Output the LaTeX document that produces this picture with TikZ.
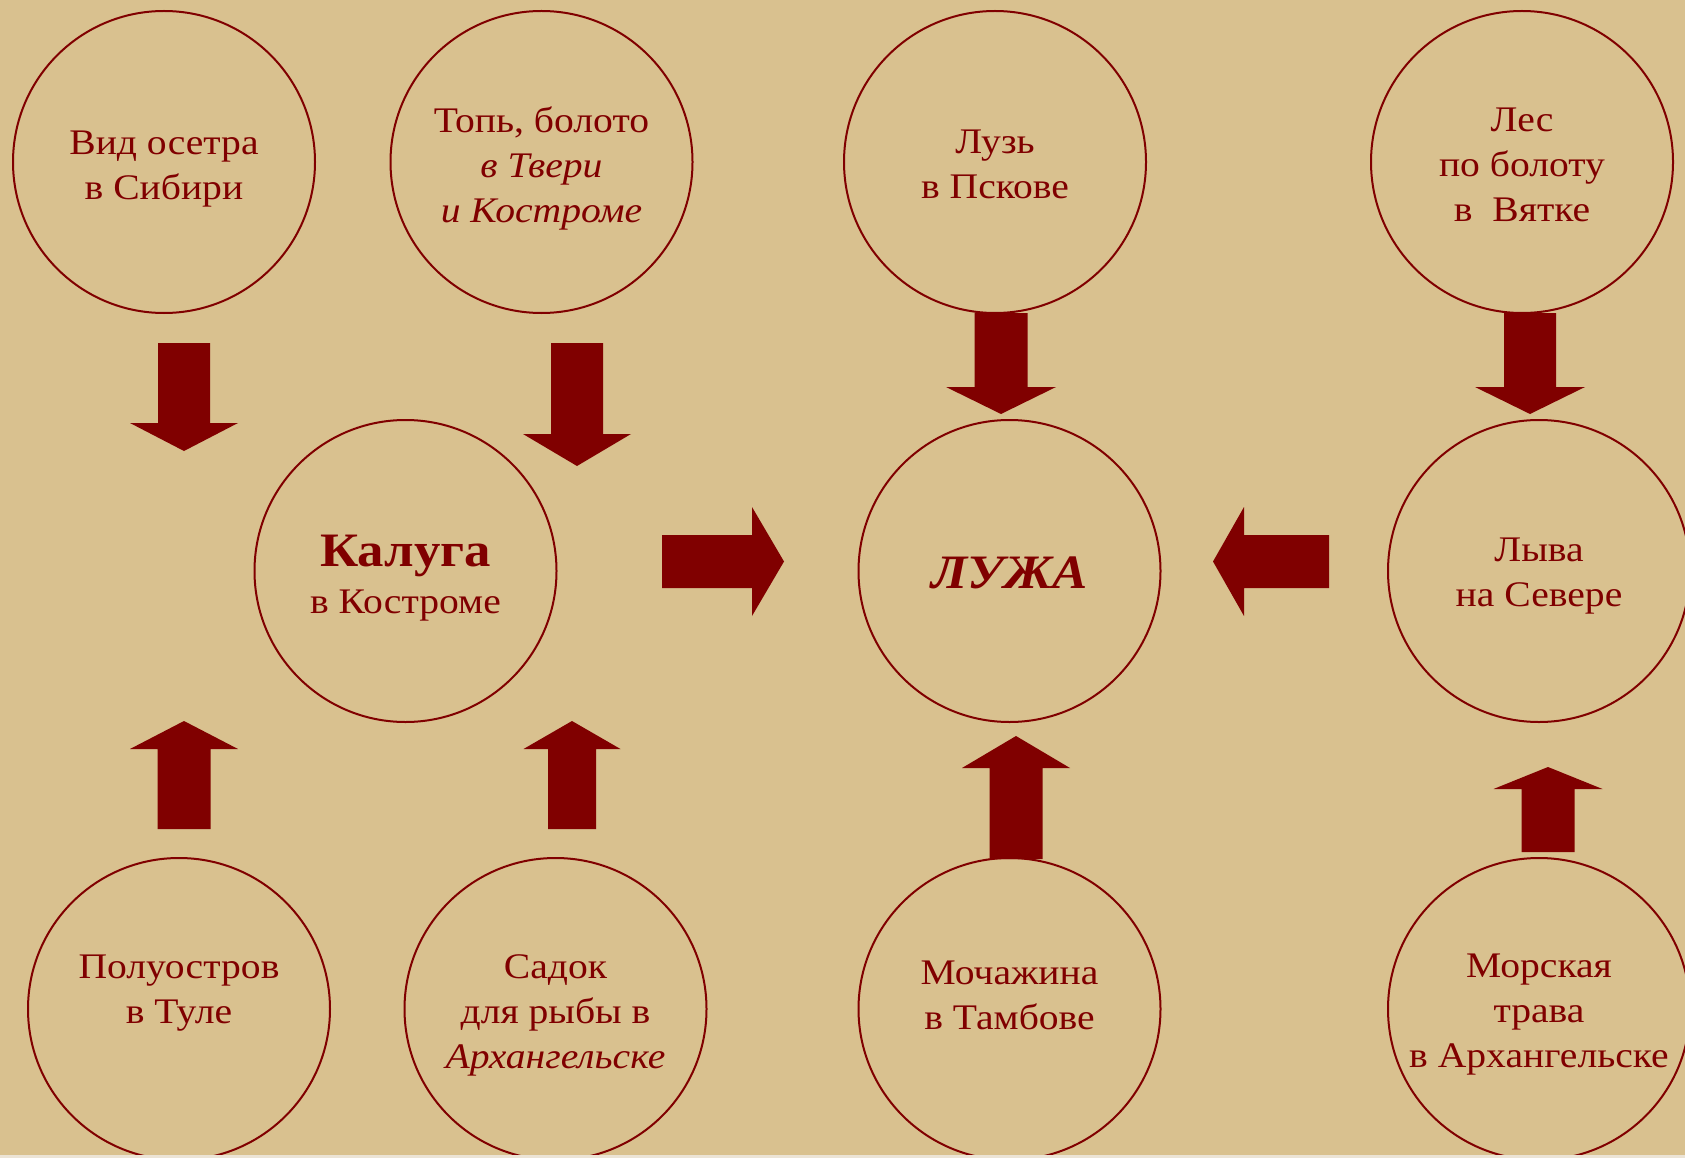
\documentclass[tikz,border=0pt]{standalone}
\usepackage{fontspec}
\setmainfont{Liberation Serif}[FakeStretch=1.1]
\usepackage{tikz}
\usepackage{xcolor}
\definecolor{dkred}{RGB}{128,0,0}
\definecolor{parchment}{RGB}{217,193,143}
\definecolor{parchedge}{RGB}{236,228,214}
\tikzstyle{place} = [circle, draw=dkred, line width=2pt, minimum size=302pt, inner sep=0pt]
\tikzstyle{caption} = [align=center, text=dkred, inner sep=0pt, font=\fontsize{36}{45}\selectfont]
% block arrows: x, tail y, head base y, tip y, half shaft, half head
\newcommand{\varrow}[6]{\fill[dkred] (#1-#5,#2) -- (#1-#5,#3) -- (#1-#6,#3) -- (#1,#4) -- (#1+#6,#3) -- (#1+#5,#3) -- (#1+#5,#2) -- cycle;}
% y, tail x, head base x, tip x, half shaft, half head
\newcommand{\harrow}[6]{\fill[dkred] (#2,#1-#5) -- (#3,#1-#5) -- (#3,#1-#6) -- (#4,#1) -- (#3,#1+#6) -- (#3,#1+#5) -- (#2,#1+#5) -- cycle;}

\begin{document}
\begin{tikzpicture}[x=1pt, y=-1pt]
    \useasboundingbox (0,0) rectangle (1685,1158);
    \clip (0,0) rectangle (1685,1158);
    \fill[parchment] (0,0) rectangle (1685,1158);

    % Circles
    \node[place] (osetr) at (164,162) {};
    \node[place] (top) at (541.5,162) {};
    \node[place] (luz) at (995,162) {};
    \node[place] (les) at (1522,162) {};
    \node[place] (kaluga) at (405.5,571) {};
    \node[place] (luzha) at (1009.5,571) {};
    \node[place] (lyva) at (1539,571) {};
    \node[place] (poluostrov) at (179,1009) {};
    \node[place] (sadok) at (555.5,1009) {};
    \node[place] (mochazhina) at (1009.5,1009) {};
    \node[place] (trava) at (1539,1009) {};

    % Texts
    \node[caption] (osetr-t) at ([yshift=-7pt]osetr) {Вид осетра\\в Сибири};
    \node[caption] (top-t) at ([yshift=-6pt]top) {Топь, болото\\\textit{в Твери}\\\textit{и Костроме}};
    \node[caption] (luz-t) at ([yshift=-2pt]luz) {Лузь\\в Пскове};
    \node[caption] (les-t) at ([yshift=-3pt]les) {Лес\\по болоту\\в~~Вятке};
    \node[caption] (kaluga-t) at ([yshift=-7pt]kaluga) {{\fontsize{48}{48}\selectfont\bfseries Калуга}\\[2pt]в Костроме};
    \node[caption] (luzha-t) at ([yshift=-2pt]luzha) {\fontsize{48}{48}\selectfont\bfseries\itshape ЛУЖА};
    \node[caption] (lyva-t) at ([yshift=-5pt]lyva) {Лыва\\на Севере};
    \node[caption] (poluostrov-t) at ([yshift=16pt]poluostrov) {Полуостров\\в Туле};
    \node[caption] (sadok-t) at ([yshift=-6pt]sadok) {Садок\\для рыбы в\\\textit{Архангельске}};
    \node[caption] (mochazhina-t) at ([yshift=14pt]mochazhina) {Мочажина\\в Тамбове};
    \node[caption] (trava-t) at ([yshift=-6pt]trava) {Морская\\трава\\в Архангельске};

    % Arrows down
    \varrow{184}{343}{423}{451}{26}{54}
    \varrow{577}{343}{434}{466}{26}{54}
    \varrow{1001}{313}{387}{414}{26.5}{55}
    \varrow{1530}{313}{387}{414}{26}{55}
    % Arrows up
    \varrow{184}{829}{749}{721}{26.5}{54}
    \varrow{572}{829}{749}{721}{24}{48.5}
    \varrow{1016}{859}{768}{736}{26.5}{54}
    \varrow{1548}{852}{789}{767}{26.5}{54.5}
    % Arrows to the centre
    \harrow{561.5}{662}{752}{784}{26.5}{54.5}
    \harrow{561.5}{1329}{1244}{1213}{26.5}{54.5}

    \fill[parchedge] (0,1155) rectangle (1685,1158);
\end{tikzpicture}
\end{document}
